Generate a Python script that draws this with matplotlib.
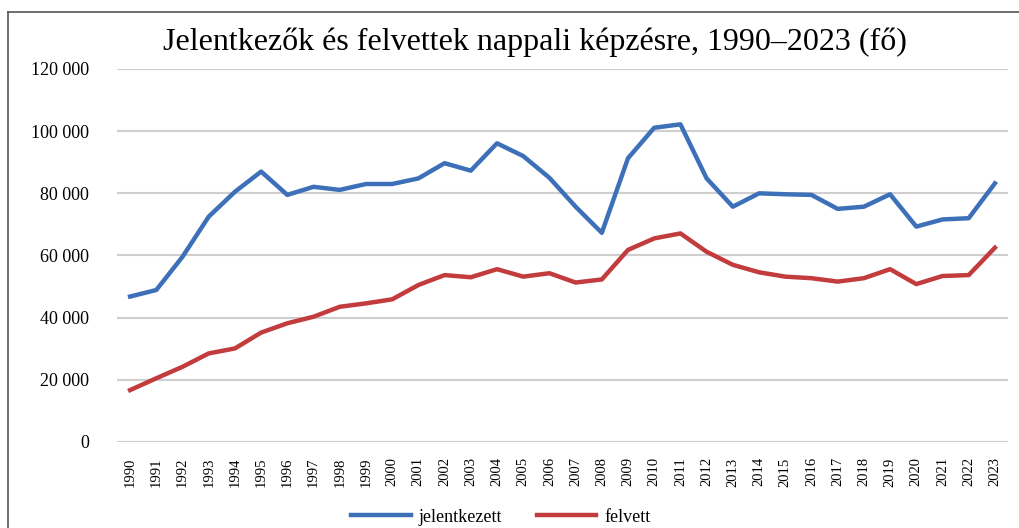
import matplotlib
matplotlib.use("Agg")
from matplotlib import pyplot as plt
from matplotlib.lines import Line2D
from matplotlib.ticker import FuncFormatter
import numpy as np

years = list(range(1990, 2024))
jelentkezett = [46800, 48900, 59600, 72500, 80500, 87000, 79500, 82100, 81100, 83000,
                83000, 84800, 89700, 87300, 96100, 92000, 85000, 75700, 67300, 91300,
                101100, 102200, 84800, 75700, 80000, 79700, 79500, 75000, 75700, 79700,
                69300, 71600, 72000, 83200]
felvett = [16700, 20500, 24200, 28500, 30100, 35200, 38200, 40300, 43500, 44600,
           45900, 50500, 53700, 53000, 55600, 53200, 54300, 51300, 52300, 61800,
           65500, 67100, 61200, 57000, 54600, 53200, 52700, 51600, 52700, 55600,
           50800, 53400, 53700, 62500]
title = "Jelentkezők és felvettek nappali képzésre, 1990–2023 (fő)"

plt.rcParams['font.family'] = ['Liberation Serif', 'DejaVu Serif']

fig = plt.figure(figsize=(10.19, 5.28), dpi=100)
W, H = 1019, 528
ax = fig.add_axes([117 / W, 1 - 442 / H, (1008 - 117) / W, (442 - 69) / H])

x = np.arange(len(years))
ax.plot(x, jelentkezett, color='#3d70b8', lw=3.2, label='jelentkezett', solid_joinstyle='round')
ax.plot(x, felvett, color='#c23b3d', lw=3.2, label='felvett', solid_joinstyle='round')

ax.set_xlim(-0.5, len(years) - 0.5)
ax.set_ylim(0, 120000)
ax.set_yticks(range(0, 120001, 20000))
ax.yaxis.set_major_formatter(FuncFormatter(lambda v, p: f"{int(v):,}".replace(",", " ")))
ax.set_xticks(x)
ax.set_xticklabels([str(y) for y in years], rotation=90, fontsize=10.5)
ax.tick_params(axis='y', labelsize=13, length=0, pad=20)
ax.tick_params(axis='x', length=0, pad=11)
ax.grid(axis='y', color='#cfcfcf', lw=1.5)
ax.set_axisbelow(True)
for s in ax.spines.values():
    s.set_visible(False)

fig.text(535 / W, 1 - 42 / H, title, ha='center', va='center', fontsize=23)

handles = [Line2D([], [], color='#3d70b8', lw=3.2), Line2D([], [], color='#c23b3d', lw=3.2)]
fig.legend(handles, ['jelentkezett', 'felvett'], loc='center', bbox_to_anchor=(501 / W, 1 - 517 / H),
           ncol=2, frameon=False, fontsize=13, handlelength=3.3, columnspacing=1.9, handletextpad=0.45,
           borderaxespad=0, borderpad=0)

# frame lines (left and top visible in the source)
fig.add_artist(Line2D([8 / W, 8 / W], [0, 1 - 12 / H], color='#555555', lw=1.2))
fig.add_artist(Line2D([8 / W, 1], [1 - 12 / H, 1 - 12 / H], color='#555555', lw=1.2))

fig.savefig("out.png", dpi=100)
